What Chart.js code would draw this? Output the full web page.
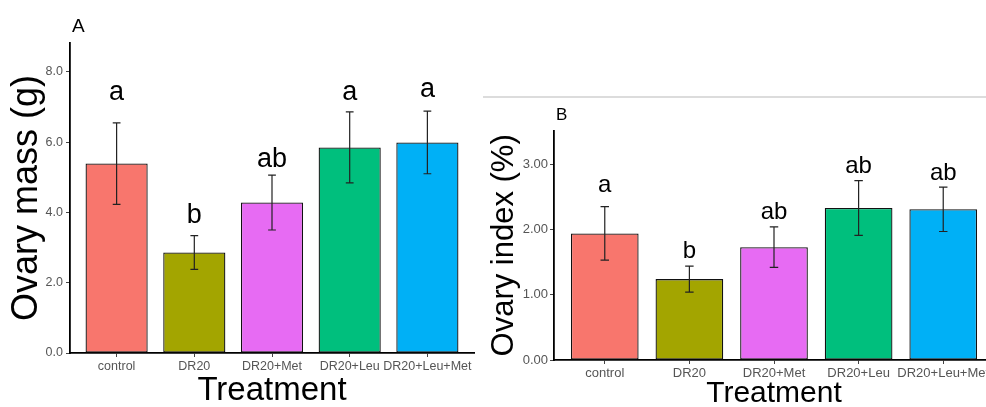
<!DOCTYPE html>
<html>
<head>
<meta charset="utf-8">
<script src="https://cdn.jsdelivr.net/npm/chart.js@4.4.1/dist/chart.umd.min.js"></script>
<style>
html, body { margin:0; padding:0; background:#fff; width:986px; height:407px; overflow:hidden; position:relative; }
canvas { position:absolute; }
#chartA { left:0; top:0; }
#chartB { left:483px; top:100px; }
#rule { position:absolute; left:483px; top:96px; width:503px; height:2px; background:#dcdcdc; }
</style>
</head>
<body>
<div id="rule"></div>
<canvas id="chartA" width="490" height="407"></canvas>
<canvas id="chartB" width="520" height="309"></canvas>
<script>
var categories = ['control', 'DR20', 'DR20+Met', 'DR20+Leu', 'DR20+Leu+Met'];
var barColors = ['#F8766D', '#A3A500', '#E76BF3', '#00BF7D', '#00B0F6'];

// panel A: ovary mass (g)
var massMean = [5.39, 2.86, 4.28, 5.85, 5.99];
var massErr = [1.16, 0.48, 0.78, 1.01, 0.89];
var massLetters = ['a', 'b', 'ab', 'a', 'a'];
var massLetterY = [7.19, 3.70, 5.29, 7.21, 7.28];
var massTicks = [0, 2, 4, 6, 8];

// panel B: ovary index (%)
var indexMean = [1.94, 1.24, 1.73, 2.33, 2.31];
var indexErr = [0.41, 0.20, 0.31, 0.42, 0.34];
var indexLetters = ['a', 'b', 'ab', 'ab', 'ab'];
var indexLetterY = [2.57, 1.57, 2.16, 2.86, 2.76];
var indexTicks = [0, 1, 2, 3];

var FONT = '"Liberation Sans", Arial, Helvetica, sans-serif';

function overlay(means, errs, letters, letterY, letterSize, tag, tagSize) {
    return {
        id: 'overlay',
        afterDatasetsDraw: function(chart) {
            var ctx = chart.ctx, x = chart.scales.x, y = chart.scales.y;
            var unit = x.getPixelForValue(2) - x.getPixelForValue(1);
            var w = unit * 0.05;
            ctx.save();
            ctx.strokeStyle = '#222';
            ctx.lineWidth = 1.2;
            means.forEach(function(m, i) {
                var px = x.getPixelForValue(i + 1);
                var top = y.getPixelForValue(m + errs[i]);
                var bot = y.getPixelForValue(m - errs[i]);
                ctx.beginPath();
                ctx.moveTo(px, top); ctx.lineTo(px, bot);
                ctx.moveTo(px - w, top); ctx.lineTo(px + w, top);
                ctx.moveTo(px - w, bot); ctx.lineTo(px + w, bot);
                ctx.stroke();
            });
            ctx.fillStyle = '#000';
            ctx.textAlign = 'center';
            ctx.textBaseline = 'alphabetic';
            ctx.font = letterSize + 'px ' + FONT;
            letters.forEach(function(t, i) {
                ctx.fillText(t, x.getPixelForValue(i + 1), y.getPixelForValue(letterY[i]));
            });
            ctx.textAlign = 'left';
            ctx.font = tagSize + 'px ' + FONT;
            ctx.fillText(tag, chart.chartArea.left + 2, chart.chartArea.top - 11);
            ctx.restore();
        }
    };
}

function makeChart(id, means, errs, letters, letterY, ticks, yMax, digits, o) {
    var ctx = document.getElementById(id).getContext('2d');
    return new Chart(ctx, {
        type: 'bar',
        data: {
            datasets: [{
                data: categories.map(function(c, i) { return { x: i + 1, y: means[i] }; }),
                backgroundColor: barColors,
                borderColor: '#111',
                borderWidth: 1.3,
                borderSkipped: false,
                barPercentage: 0.8,
                categoryPercentage: 1
            }]
        },
        options: {
            responsive: false,
            animation: false,
            layout: { padding: { top: o.padTop, right: o.padRight, left: 0, bottom: 0 } },
            plugins: { legend: { display: false }, tooltip: { enabled: false } },
            scales: {
                x: {
                    type: 'linear',
                    min: 0.4,
                    max: 5.6,
                    offset: false,
                    afterBuildTicks: function(s) {
                        s.ticks = categories.map(function(c, i) { return { value: i + 1 }; });
                    },
                    afterFit: function(s) { s.height = o.xHeight; },
                    ticks: {
                        autoSkip: false, maxRotation: 0, minRotation: 0,
                        padding: o.xTickPad,
                        color: '#555',
                        font: { family: FONT, size: o.tickSize },
                        callback: function(v) { return categories[v - 1]; }
                    },
                    grid: { display: true, offset: false, drawOnChartArea: false, drawTicks: true, tickLength: 4, color: '#444' },
                    border: { display: true, color: '#000', width: 1.8 },
                    title: {
                        display: true, text: 'Treatment', color: '#000',
                        font: { family: FONT, size: o.xTitleSize, lineHeight: 1 },
                        padding: { top: 0, bottom: o.xTitlePad }
                    }
                },
                y: {
                    min: 0,
                    max: yMax,
                    afterBuildTicks: function(s) {
                        s.ticks = ticks.map(function(v) { return { value: v }; });
                    },
                    afterFit: function(s) { s.width = o.yWidth; },
                    ticks: {
                        padding: o.yTickPad,
                        color: '#555',
                        font: { family: FONT, size: o.tickSize },
                        callback: function(v) { return Number(v).toFixed(digits); }
                    },
                    grid: { display: true, drawOnChartArea: false, drawTicks: true, tickLength: 4, color: '#444' },
                    border: { display: true, color: '#000', width: 1.8 },
                    title: {
                        display: true, text: o.yTitle, color: '#000',
                        font: { family: FONT, size: o.yTitleSize, lineHeight: 1 },
                        padding: { top: o.yTitlePad, bottom: 0 }
                    }
                }
            }
        },
        plugins: [overlay(means, errs, letters, letterY, o.letterSize, o.tag, o.tagSize)]
    });
}

makeChart('chartA', massMean, massErr, massLetters, massLetterY, massTicks, 8.82, 1, {
    padTop: 43, padRight: 16, xHeight: 54, yWidth: 70,
    tickSize: 12.5, xTickPad: 2, yTickPad: 3,
    xTitleSize: 33, xTitlePad: 0, yTitle: 'Ovary mass (g)', yTitleSize: 36, yTitlePad: 9.5,
    letterSize: 27, tag: 'A', tagSize: 19
});

makeChart('chartB', indexMean, indexErr, indexLetters, indexLetterY, indexTicks, 3.515, 2, {
    padTop: 30.7, padRight: 9, xHeight: 49, yWidth: 71,
    tickSize: 13, xTickPad: 2, yTickPad: 2,
    xTitleSize: 30, xTitlePad: 0.5, yTitle: 'Ovary index (%)', yTitleSize: 31, yTitlePad: 5.5,
    letterSize: 24, tag: 'B', tagSize: 17
});
</script>
</body>
</html>
